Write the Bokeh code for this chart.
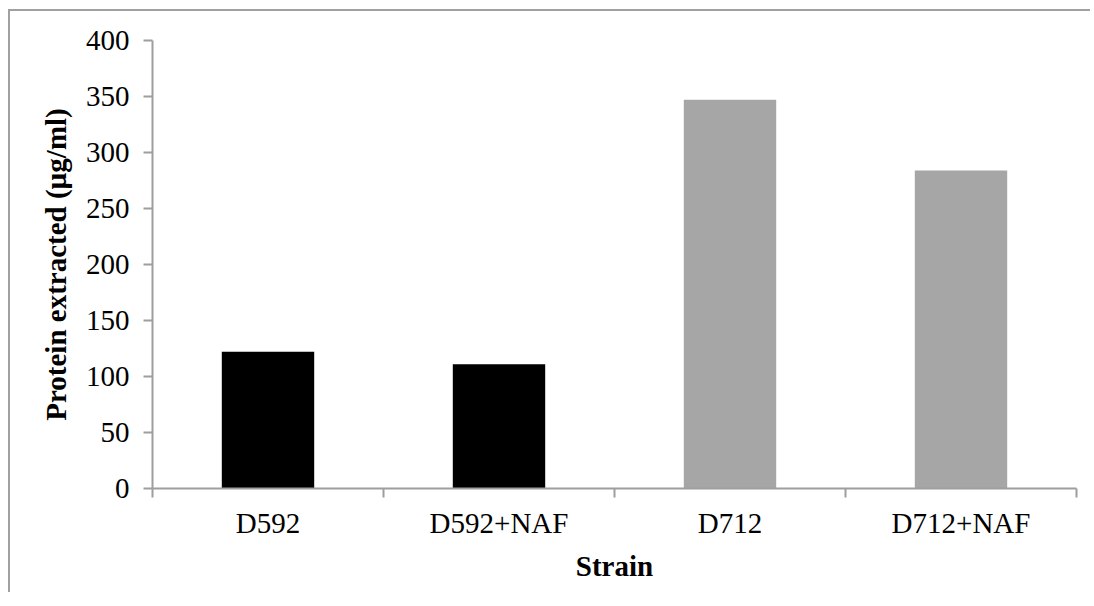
from bokeh.plotting import figure
from bokeh.models import ColumnDataSource, FixedTicker, Range1d
from bokeh.embed import file_html
from bokeh.resources import INLINE

categories = ["D592", "D592+NAF", "D712", "D712+NAF"]
protein = [122, 111, 347, 284]
bar_colors = ["#000000", "#000000", "#a6a6a6", "#a6a6a6"]
y_ticks = [0, 50, 100, 150, 200, 250, 300, 350, 400]

xs = [i + 0.5 for i in range(len(categories))]
src = ColumnDataSource(dict(x=xs, top=protein, color=bar_colors, name=categories))

p = figure(width=1082, height=583, output_backend="svg", toolbar_location=None,
           x_range=Range1d(0, len(categories)), y_range=Range1d(0, 400),
           min_border_left=142, min_border_right=16, min_border_top=29, min_border_bottom=106)
p.styles = {"border-top": "2px solid #a0a0a0", "border-left": "2px solid #a0a0a0",
            "margin-left": "8px", "margin-top": "9px"}
p.outline_line_color = None
p.xgrid.grid_line_color = None
p.ygrid.grid_line_color = None

p.vbar(x="x", top="top", width=0.4, color="color", line_color=None, source=src)

axis_color = "#9e9e9e"
font = "Liberation Serif"

xa = p.xaxis[0]
xa.ticker = FixedTicker(ticks=xs, minor_ticks=list(range(len(categories) + 1)))
xa.major_label_overrides = {x: c for x, c in zip(xs, categories)}
xa.major_tick_line_color = None
xa.minor_tick_line_color = axis_color
xa.minor_tick_line_width = 2
xa.minor_tick_out = 9
xa.minor_tick_in = 0
xa.axis_line_color = axis_color
xa.axis_line_width = 2
xa.major_label_text_font = font
xa.major_label_text_font_size = "29px"
xa.major_label_text_color = "black"
xa.major_label_standoff = 9
xa.axis_label = "Strain"
xa.axis_label_text_font = font
xa.axis_label_text_font_size = "29px"
xa.axis_label_text_font_style = "bold"
xa.axis_label_text_color = "black"
xa.axis_label_standoff = 8

ya = p.yaxis[0]
ya.ticker = FixedTicker(ticks=y_ticks)
ya.minor_tick_line_color = None
ya.major_tick_line_color = axis_color
ya.major_tick_line_width = 2
ya.major_tick_out = 9
ya.major_tick_in = 0
ya.axis_line_color = axis_color
ya.axis_line_width = 2
ya.major_label_text_font = font
ya.major_label_text_font_size = "29px"
ya.major_label_text_color = "black"
ya.major_label_standoff = 14
ya.axis_label = "Protein extracted (µg/ml)"
ya.axis_label_text_font = font
ya.axis_label_text_font_size = "29px"
ya.axis_label_text_font_style = "bold"
ya.axis_label_text_color = "black"
ya.axis_label_standoff = 11

open("out.html", "w").write(file_html(p, INLINE))
